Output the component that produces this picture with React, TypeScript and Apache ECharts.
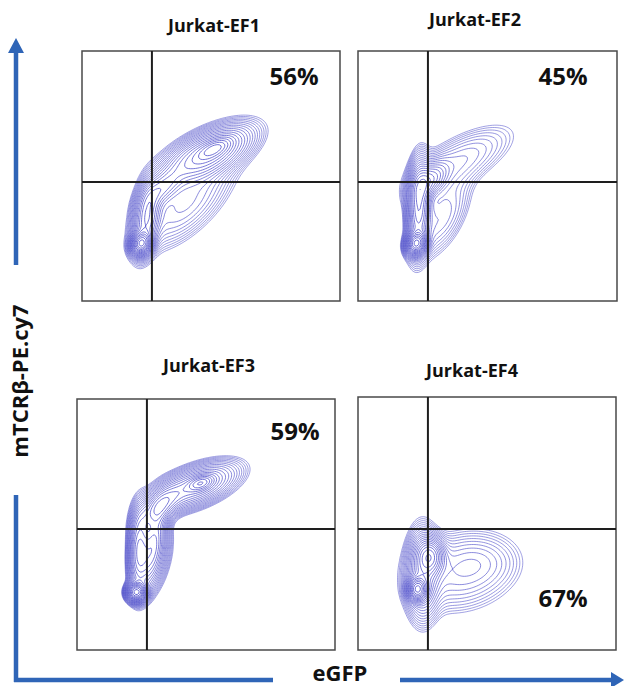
import React, { useEffect, useRef } from "react";
import * as echarts from "echarts";

// Panel titles and the percentage of the gated quadrant
const panelTitles = ["Jurkat-EF1", "Jurkat-EF2", "Jurkat-EF3", "Jurkat-EF4"];
const panelPercents = ["56%", "45%", "59%", "67%"];
const xAxisTitle = "eGFP";
const yAxisTitle = "mTCRβ-PE.cy7";

// Quadrant gates (axis units 0-100) per panel
const gateX = [27.1, 27.0, 27.1, 27.1];
const gateY = [47.6, 47.6, 48.2, 47.8];

// Population density components per panel: [cx, cy, major sigma, minor sigma, angle (deg), weight]
const popEF1 = [
  [23, 23, 2.5, 2, 70, 1.0],
  [25, 33, 8, 2.8, 82, 0.4],
  [31, 45, 6, 3, 45, 0.25],
  [48, 58.5, 10.5, 4.5, 27, 0.45],
  [51.5, 61, 4, 1.8, 27, 0.3],
  [40, 38, 13, 6, 45, 0.1],
  [42, 46, 20, 8, 45, 0.035],
];
const popEF2 = [
  [22.5, 23, 2.5, 2, 70, 1.0],
  [23.5, 38, 10, 2.4, 88, 0.5],
  [27.5, 48, 5, 3, 50, 0.3],
  [39, 56, 14, 5.5, 30, 0.1],
  [32, 33, 11, 5, 62, 0.1],
];
const popEF3 = [
  [23, 23, 2, 2, 0, 1.0],
  [24, 40, 9, 2.2, 88, 0.4],
  [29.5, 42, 9, 2.4, 80, 0.3],
  [32, 57, 6, 3, 45, 0.3],
  [45.5, 65, 10, 4.2, 22, 0.3],
  [48, 66.5, 3, 1.6, 20, 0.3],
  [30, 35, 9, 3.5, 75, 0.1],
];
const popEF4 = [
  [23, 24, 2.5, 2, 90, 1.0],
  [28, 37, 4, 3, 90, 0.45],
  [25, 30, 10, 3.5, 90, 0.3],
  [40, 31, 13, 9, 15, 0.12],
  [48, 35, 8, 5.5, 0, 0.03],
];
const populations = [popEF1, popEF2, popEF3, popEF4];

// contour levels as fraction of peak density
const levelLow = 0.02;
const levelHigh = 0.9;
const levelCount = 22;

function density(comps: number[][], x: number, y: number) {
  let v = 0;
  for (const [cx, cy, sa, sb, ang, w] of comps) {
    const a = (ang * Math.PI) / 180;
    const dx = x - cx;
    const dy = y - cy;
    const u = (dx * Math.cos(a) + dy * Math.sin(a)) / sa;
    const p = (-dx * Math.sin(a) + dy * Math.cos(a)) / sb;
    v += w * Math.exp(-0.5 * (u * u + p * p));
  }
  return v;
}

const CASES: number[][][] = [
  [], [[3, 0]], [[0, 1]], [[3, 1]], [[1, 2]], [[3, 0], [1, 2]], [[0, 2]], [[3, 2]],
  [[2, 3]], [[0, 2]], [[0, 1], [2, 3]], [[1, 2]], [[1, 3]], [[0, 1]], [[3, 0]], [],
];

function buildContours(comps: number[][]) {
  const N = 150;
  const step = 100 / N;
  const M = N + 1;
  const f = new Float64Array(M * M);
  let max = 0;
  for (let j = 0; j < M; j++)
    for (let i = 0; i < M; i++) {
      const v = density(comps, i * step, j * step);
      f[j * M + i] = v;
      if (v > max) max = v;
    }
  const out: { coords: number[][]; lineStyle: any }[] = [];
  for (let k = 0; k < levelCount; k++) {
    const frac = Math.exp(Math.log(levelLow) + ((Math.log(levelHigh) - Math.log(levelLow)) * k) / (levelCount - 1));
    const t = max * frac;
    const pts = new Map<string, number[]>();
    const segs: string[][] = [];
    const byKey = new Map<string, number[]>();
    for (let j = 0; j < N; j++)
      for (let i = 0; i < N; i++) {
        const v0 = f[j * M + i], v1 = f[j * M + i + 1], v2 = f[(j + 1) * M + i + 1], v3 = f[(j + 1) * M + i];
        const idx = (v0 > t ? 1 : 0) | (v1 > t ? 2 : 0) | (v2 > t ? 4 : 0) | (v3 > t ? 8 : 0);
        const cs = CASES[idx];
        if (!cs.length) continue;
        const edgeKey = (e: number) => {
          let key = "";
          let p: number[] = [];
          if (e === 0) { key = `h${i},${j}`; p = [(i + (t - v0) / (v1 - v0)) * step, j * step]; }
          else if (e === 1) { key = `v${i + 1},${j}`; p = [(i + 1) * step, (j + (t - v1) / (v2 - v1)) * step]; }
          else if (e === 2) { key = `h${i},${j + 1}`; p = [(i + (t - v3) / (v2 - v3)) * step, (j + 1) * step]; }
          else { key = `v${i},${j}`; p = [i * step, (j + (t - v0) / (v3 - v0)) * step]; }
          if (!pts.has(key)) pts.set(key, p);
          return key;
        };
        for (const [a, b] of cs) {
          const ka = edgeKey(a), kb = edgeKey(b);
          const id = segs.length;
          segs.push([ka, kb]);
          if (!byKey.has(ka)) byKey.set(ka, []);
          if (!byKey.has(kb)) byKey.set(kb, []);
          byKey.get(ka)!.push(id);
          byKey.get(kb)!.push(id);
        }
      }
    const used = new Uint8Array(segs.length);
    for (let s = 0; s < segs.length; s++) {
      if (used[s]) continue;
      used[s] = 1;
      const chain = [segs[s][0], segs[s][1]];
      const extend = (forward: boolean) => {
        for (;;) {
          const end = forward ? chain[chain.length - 1] : chain[0];
          const cand = (byKey.get(end) || []).find((id) => !used[id]);
          if (cand === undefined) break;
          used[cand] = 1;
          const nxt = segs[cand][0] === end ? segs[cand][1] : segs[cand][0];
          if (forward) chain.push(nxt); else chain.unshift(nxt);
        }
      };
      extend(true);
      extend(false);
      out.push({
        coords: chain.map((key) => pts.get(key)!),
        lineStyle: { opacity: 0.6 + 0.35 * (k / (levelCount - 1)) },
      });
    }
  }
  return out;
}

// panel boxes in pixels: [left, top, width, height]
const boxes = [
  [82, 51, 258, 250],
  [358, 51, 259, 250],
  [77, 399, 258, 251],
  [358, 397, 258, 253],
];

export default function App() {
  const ref = useRef<HTMLDivElement>(null);
  useEffect(() => {
    const chart = echarts.init(ref.current!, undefined, { renderer: "svg" });
    const grids: any[] = [];
    const xAxes: any[] = [];
    const yAxes: any[] = [];
    const series: any[] = [];
    const graphics: any[] = [];
    boxes.forEach(([l, t, w, h], k) => {
      grids.push({ left: l, top: t, width: w, height: h, show: true, borderColor: "#4a4a4a", borderWidth: 1.5, backgroundColor: "transparent" });
      xAxes.push({ type: "value", gridIndex: k, min: 0, max: 100, show: false });
      yAxes.push({ type: "value", gridIndex: k, min: 0, max: 100, show: false });
      series.push({
        type: "lines",
        coordinateSystem: "cartesian2d",
        xAxisIndex: k,
        yAxisIndex: k,
        polyline: true,
        silent: true,
        lineStyle: { color: "#4646c8", width: 0.85 },
        data: buildContours(populations[k]),
        z: 2,
      });
      series.push({
        type: "line", xAxisIndex: k, yAxisIndex: k, symbol: "none", silent: true, z: 3,
        lineStyle: { color: "#1e1e1e", width: 2 },
        data: [[gateX[k], 0], [gateX[k], 100]],
      });
      series.push({
        type: "line", xAxisIndex: k, yAxisIndex: k, symbol: "none", silent: true, z: 3,
        lineStyle: { color: "#1e1e1e", width: 2 },
        data: [[0, gateY[k]], [100, gateY[k]]],
      });
    });
    const titlePos = [[214, 25], [475, 19], [209, 365], [472, 370]];
    const pctPos = [[294, 75], [563, 75], [295, 430], [563, 597]];
    panelTitles.forEach((s, k) => {
      graphics.push({
        type: "text", x: titlePos[k][0], y: titlePos[k][1],
        style: { text: s, font: "bold 18px 'Open Sans'", fill: "#111", textAlign: "center", textVerticalAlign: "middle" },
      });
      graphics.push({
        type: "text", x: pctPos[k][0], y: pctPos[k][1],
        style: { text: panelPercents[k], font: "bold 24px 'Open Sans'", fill: "#111", textAlign: "center", textVerticalAlign: "middle" },
      });
    });
    const blue = "#2f65b7";
    graphics.push(
      { type: "line", shape: { x1: 16, y1: 50, x2: 16, y2: 265 }, style: { stroke: blue, lineWidth: 4.5 } },
      { type: "line", shape: { x1: 16, y1: 495, x2: 16, y2: 682 }, style: { stroke: blue, lineWidth: 4.5 } },
      { type: "polygon", shape: { points: [[16, 38], [8, 53], [24, 53]] }, style: { fill: blue } },
      { type: "line", shape: { x1: 14, y1: 680, x2: 273, y2: 680 }, style: { stroke: blue, lineWidth: 4.5 } },
      { type: "line", shape: { x1: 400, y1: 680, x2: 614, y2: 680 }, style: { stroke: blue, lineWidth: 4.5 } },
      { type: "polygon", shape: { points: [[624, 680], [611, 672], [611, 688]] }, style: { fill: blue } },
      {
        type: "text", x: 340, y: 672,
        style: { text: xAxisTitle, font: "bold 22px 'Open Sans'", fill: "#111", textAlign: "center", textVerticalAlign: "middle" },
      },
      {
        type: "text", x: 19, y: 381, rotation: Math.PI / 2,
        style: { text: yAxisTitle, font: "bold 22px 'Open Sans'", fill: "#111", textAlign: "center", textVerticalAlign: "middle" },
      }
    );
    chart.setOption({
      animation: false,
      backgroundColor: "#fff",
      grid: grids,
      xAxis: xAxes,
      yAxis: yAxes,
      series,
      graphic: graphics,
    });
    return () => chart.dispose();
  }, []);
  return <div ref={ref} style={{ position: "fixed", left: 0, top: 0, width: 624, height: 686 }} />;
}
